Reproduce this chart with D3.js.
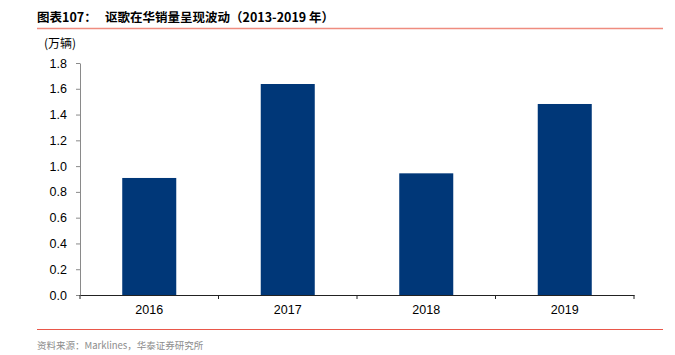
<!DOCTYPE html>
<html>
<head>
<meta charset="utf-8">
<script src="https://cdn.jsdelivr.net/npm/d3@7"></script>
<style>
  body { margin: 0; background: #fff; }
  svg { display: block; font-family: "Liberation Sans", Arial, "Noto Sans CJK SC", sans-serif; }
  .tick text { font-size: 12.5px; fill: #000; }
</style>
</head>
<body>
<div id="chart"></div>
<script>
// data
const years = ['2016', '2017', '2018', '2019'];
const sales = [0.908, 1.637, 0.944, 1.482];
const yTicks = [0, 0.2, 0.4, 0.6, 0.8, 1.0, 1.2, 1.4, 1.6, 1.8];

const W = 675, H = 355;
const MARGIN_LEFT = 80, MARGIN_RIGHT = 41, MARGIN_TOP = 63, MARGIN_BOTTOM = 60;
const CJK = '"Noto Sans CJK SC", "Liberation Sans", sans-serif';

const $svg = d3.select('#chart').append('svg')
  .attr('width', W).attr('height', H);

// title + rules
$svg.append('text')
  .attr('x', 37).attr('y', 22)
  .attr('font-size', 12.5).attr('font-weight', 'bold')
  .attr('font-family', CJK)
  .text('图表107：');

$svg.append('text')
  .attr('x', 105).attr('y', 22)
  .attr('font-size', 12.5).attr('font-weight', 'bold')
  .attr('font-family', CJK)
  .text('讴歌在华销量呈现波动（2013-2019 年）');

$svg.append('line')
  .attr('x1', 37).attr('x2', 663).attr('y1', 28.5).attr('y2', 28.5)
  .attr('stroke', '#ef8c7f').attr('stroke-width', 1.5);

$svg.append('line')
  .attr('x1', 37).attr('x2', 663).attr('y1', 329.5).attr('y2', 329.5)
  .attr('stroke', '#e9574a').attr('stroke-width', 1);

$svg.append('text')
  .attr('x', 37).attr('y', 349)
  .attr('font-size', 9.5).attr('fill', '#8c8c8c')
  .attr('font-family', CJK)
  .text('资料来源：Marklines，华泰证券研究所');

$svg.append('text')
  .attr('x', 44).attr('y', 48)
  .attr('font-size', 12)
  .attr('font-family', CJK)
  .text('(万辆)');

// scales
const x = d3.scaleBand()
  .domain(years)
  .range([MARGIN_LEFT, W - MARGIN_RIGHT])
  .paddingInner(0.61).paddingOuter(0.305);

const y = d3.scaleLinear()
  .domain([0, 1.8])
  .range([H - MARGIN_BOTTOM, MARGIN_TOP]);

// bars
$svg.append('g').selectAll('rect')
  .data(sales)
  .join('rect')
  .attr('x', (d, i) => x(years[i]))
  .attr('width', x.bandwidth())
  .attr('y', d => y(d))
  .attr('height', d => y(0) - y(d))
  .attr('fill', '#003778');

// y axis
const $yAxis = $svg.append('g')
  .attr('transform', `translate(${MARGIN_LEFT},0)`)
  .call(d3.axisLeft(y).tickValues(yTicks).tickFormat(d3.format('.1f')).tickSize(4).tickSizeOuter(0).tickPadding(9));
$yAxis.selectAll('line, path').attr('stroke', '#8a8a8a');

// x axis with ticks at band boundaries
const bounds = d3.range(years.length + 1).map(i => MARGIN_LEFT + i * (W - MARGIN_RIGHT - MARGIN_LEFT) / years.length);
const $xAxis = $svg.append('g')
  .attr('transform', `translate(0,${y(0)})`)
  .call(d3.axisBottom(x).tickSize(0).tickPadding(10).tickSizeOuter(0));
$xAxis.select('.domain').attr('stroke', '#222');
$xAxis.selectAll('.tick line').remove();
$xAxis.selectAll('.bound')
  .data(bounds)
  .join('line')
  .attr('class', 'bound')
  .attr('x1', d => d).attr('x2', d => d)
  .attr('y1', 0).attr('y2', 4)
  .attr('stroke', '#222');
</script>
</body>
</html>
